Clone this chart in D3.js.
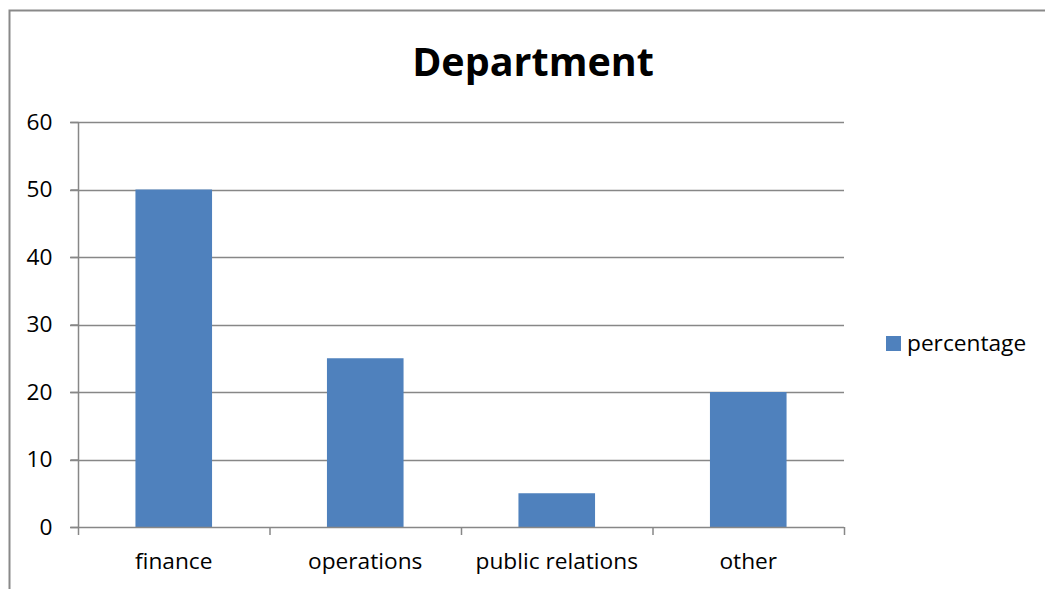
<!DOCTYPE html>
<html>
<head>
<meta charset="utf-8">
<script src="https://cdn.jsdelivr.net/npm/d3@7/dist/d3.min.js"></script>
<style>
  html, body { margin: 0; padding: 0; background: #fff; }
  svg { display: block; }
  text { font-family: "Open Sans", "Noto Sans", sans-serif; fill: #000; }
</style>
</head>
<body>
<svg id="chart" width="1045" height="589"></svg>
<script>
const categories = ["finance", "operations", "public relations", "other"];
const seriesName = "percentage";
const values = [50, 25, 5, 20];
const yTicks = [0, 10, 20, 30, 40, 50, 60];
const chartTitle = "Department";

const W = 1045, H = 589;
const margin = { left: 78, right: 1045 - 844, top: 122, bottom: 589 - 527 };
const svg = d3.select("#chart");
const fs = "22.7px";

// outer chart border
svg.append("rect")
  .attr("x", 9.5).attr("y", 10.5)
  .attr("width", W + 20).attr("height", H + 20)
  .attr("fill", "none").attr("stroke", "#898989").attr("stroke-width", 2);

const x = d3.scaleBand().domain(categories)
  .range([margin.left, W - margin.right]).paddingInner(0.6).paddingOuter(0.3);
const xb = d3.scaleBand().domain(categories)
  .range([margin.left, W - margin.right]).padding(0);
const y = d3.scaleLinear().domain([0, 60]).range([H - margin.bottom, margin.top]);

const gridColor = "#878787";

// gridlines
svg.append("g").selectAll("line").data(yTicks.filter(d => d !== 0)).join("line")
  .attr("x1", margin.left - 8).attr("x2", W - margin.right)
  .attr("y1", d => Math.round(y(d)) + 0.5).attr("y2", d => Math.round(y(d)) + 0.5)
  .attr("stroke", gridColor).attr("stroke-width", 1.5);

// bars
svg.append("g").selectAll("rect").data(values).join("rect")
  .attr("x", (d, i) => x(categories[i]))
  .attr("width", x.bandwidth())
  .attr("y", d => y(d))
  .attr("height", d => y(0) - y(d))
  .attr("fill", "#4F81BD");

// y axis
const yAxis = d3.axisLeft(y).tickValues(yTicks).tickSize(8).tickPadding(18);
const gy = svg.append("g").attr("transform", `translate(${margin.left + 0.5},0)`).call(yAxis);
gy.select(".domain").attr("stroke", gridColor).attr("stroke-width", 1.5).attr("d", `M0,${y(60)}V${y(0)}`);
gy.selectAll(".tick line").attr("stroke", gridColor).attr("stroke-width", 1.5);
gy.selectAll(".tick text").style("font-size", fs).attr("font-family", "Open Sans");

// x axis baseline and ticks at category boundaries
const bounds = categories.map(c => xb(c)).concat([W - margin.right]);
svg.append("line")
  .attr("x1", margin.left - 8).attr("x2", W - margin.right)
  .attr("y1", Math.round(y(0)) + 0.5).attr("y2", Math.round(y(0)) + 0.5)
  .attr("stroke", gridColor).attr("stroke-width", 1.5);
svg.append("g").selectAll("line").data(bounds).join("line")
  .attr("x1", d => d + 0.5).attr("x2", d => d + 0.5)
  .attr("y1", y(0)).attr("y2", y(0) + 8)
  .attr("stroke", gridColor).attr("stroke-width", 1.5);

// x labels
svg.append("g").selectAll("text").data(categories).join("text")
  .attr("x", d => xb(d) + xb.bandwidth() / 2)
  .attr("y", 569)
  .attr("text-anchor", "middle")
  .style("font-size", fs)
  .text(d => d);

// title
svg.append("text")
  .attr("x", 533).attr("y", 76)
  .attr("text-anchor", "middle")
  .style("font-size", "39.5px").style("font-weight", "bold")
  .text(chartTitle);

// legend
const lg = svg.append("g");
lg.append("rect").attr("x", 886).attr("y", 336).attr("width", 15).attr("height", 15).attr("fill", "#4F81BD");
lg.append("text").attr("x", 907).attr("y", 351).style("font-size", fs).text(seriesName);
</script>
</body>
</html>
